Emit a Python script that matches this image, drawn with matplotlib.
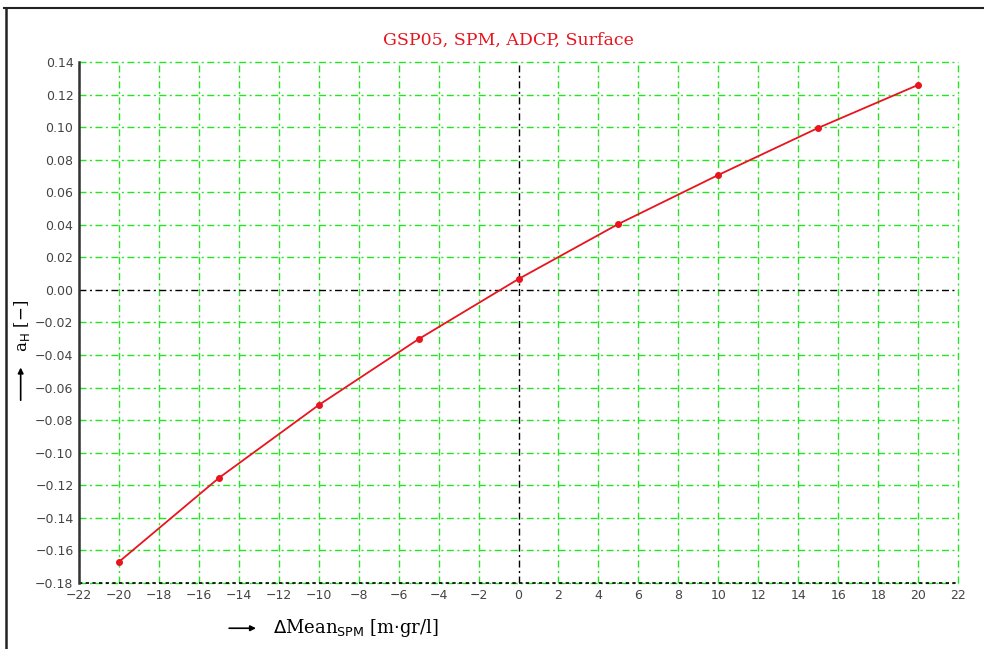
import numpy as np
import matplotlib.pyplot as plt
from matplotlib.lines import Line2D

# sensitivity of a_H to a shift in mean SPM
delta_spm = [-20, -15, -10, -5, 0, 5, 10, 15, 20]
a_h = [-0.167, -0.1155, -0.0707, -0.0302, 0.0067, 0.0405, 0.0706, 0.0995, 0.1259]

x_ticks = np.arange(-22, 23, 2)
y_ticks = np.round(np.arange(-0.18, 0.141, 0.02), 2) + 0.0

green = '#22e622'
dashdot = (0, (5, 2.5, 1.5, 2.5))

fig = plt.figure(figsize=(9.84, 6.49), dpi=100)
ax = fig.add_axes([0.0803, 0.1017, 0.8933, 0.8028])

ax.set_xlim(-22, 22)
ax.set_ylim(-0.18, 0.14)
ax.set_xticks(x_ticks)
ax.set_yticks(y_ticks)
ax.set_xticklabels([f"{v:d}".replace('-', '\u2212') for v in x_ticks])
ylabels = [f"{abs(v):.2f}" if abs(v) < 1e-9 else f"{v:.2f}".replace('-', '\u2212') for v in y_ticks]
ax.set_yticklabels(ylabels)
ax.tick_params(length=0, labelsize=9, colors='#444444', pad=4)

for s in ['top', 'right', 'bottom']:
    ax.spines[s].set_visible(False)
ax.spines['left'].set_linewidth(1.8)
ax.spines['left'].set_color('#333333')

# grid drawn by hand so the edges get lines too
for xv in x_ticks:
    if xv != 0:
        ax.axvline(xv, color=green, lw=1.0, ls=dashdot, zorder=1, clip_on=False)
for yv in y_ticks:
    if abs(yv) > 1e-9:
        ax.axhline(yv, color=green, lw=1.0, ls=dashdot, zorder=1, clip_on=False)
ax.axvline(0, color='black', lw=1.0, ls=dashdot, zorder=2)
ax.axhline(0, color='black', lw=1.0, ls=dashdot, zorder=2)
ax.axhline(-0.18, color='black', lw=1.2, ls=(0, (2, 2)), zorder=2, clip_on=False)

ax.plot(delta_spm, a_h, color='#e8141e', lw=1.3, marker='o', ms=4, zorder=5)

fig.text(0.517, 0.938, 'GSP05, SPM, ADCP, Surface', ha='center', va='center',
         color='#e8141e', fontsize=12.5, family='DejaVu Serif')

# x label with leading arrow
fig.text(0.277, 0.032, r'$\Delta$Mean$_{\mathrm{SPM}}$ [m$\cdot$gr/l]', ha='left', va='center',
         fontsize=13, family='DejaVu Serif')
ax.annotate('', xy=(0.263, 0.032), xytext=(0.230, 0.032), xycoords='figure fraction',
            arrowprops=dict(arrowstyle='-|>', color='black', lw=1.2, mutation_scale=8))

# y label with leading arrow
fig.text(0.022, 0.497, r'a$_{\mathrm{H}}$ [$-$]', ha='center', va='center', rotation=90,
         fontsize=12, family='DejaVu Serif')
ax.annotate('', xy=(0.021, 0.438), xytext=(0.021, 0.379), xycoords='figure fraction',
            arrowprops=dict(arrowstyle='-|>', color='black', lw=1.2, mutation_scale=8))

# outer frame (top and left)
fig.add_artist(Line2D([0.004, 1.0], [0.988, 0.988], color='#222222', lw=1.5))
fig.add_artist(Line2D([0.006, 0.006], [0.0, 0.988], color='#222222', lw=1.8))

fig.savefig('out.png', dpi=100)
